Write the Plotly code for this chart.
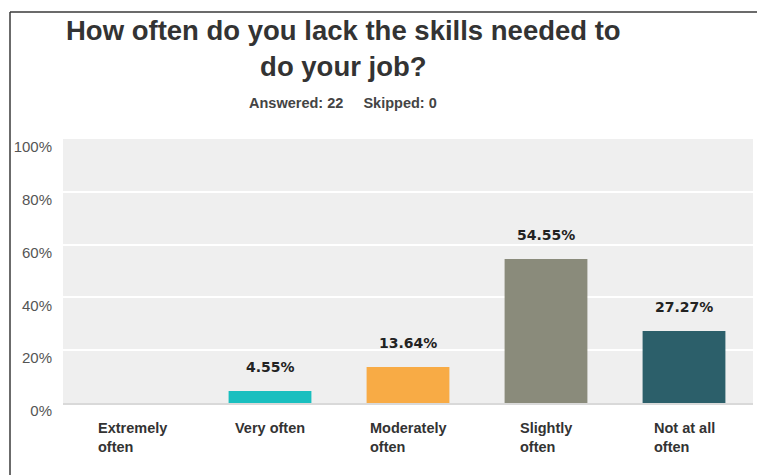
import plotly.graph_objects as go

categories = ["Extremely often", "Very often", "Moderately often", "Slightly often", "Not at all often"]
tick_labels = ["Extremely<br>often", "Very often", "Moderately<br>often", "Slightly<br>often", "Not at all<br>often"]
values = [0.0, 4.55, 13.64, 54.55, 27.27]
colors = ["#3a8fd6", "#19bfbf", "#f8ab45", "#8a8b7b", "#2c5f6a"]
y_ticks = [0, 20, 40, 60, 80, 100]
y_tick_text = ["0%", "20%", "40%", "60%", "80%", "100%"]

W, H = 757, 475
L, R, T, B = 63, 4, 139, 72
pw, ph = W - L - R, H - T - B

def px_x(px):
    return (px - L) / pw

def px_y(py):
    return (H - B - py) / ph

fig = go.Figure()
fig.add_trace(go.Bar(
    x=categories, y=values, marker=dict(color=colors, line=dict(width=0)),
    width=0.6, hoverinfo="skip",
))

annotations = []
for c, v in zip(categories, values):
    if v > 0:
        annotations.append(dict(
            x=c, y=v, xref="x", yref="y", text=f"{v:.2f}%", showarrow=False,
            yanchor="bottom", yshift=14,
            font=dict(family="DejaVu Sans", size=14, color="#222222", weight="bold"),
        ))
for c, t in zip(categories, tick_labels):
    annotations.append(dict(
        x=c, y=0, xref="x", yref="paper", text=t, showarrow=False,
        xanchor="center", yanchor="top", align="left", yshift=-15,
        font=dict(family="Liberation Sans, Arial", size=14.5, color="#333333", weight="bold"),
    ))

annotations.append(dict(
    x=px_x(343), y=px_y(33), xref="paper", yref="paper",
    text="How often do you lack the skills needed to<br>do your job?",
    showarrow=False, xanchor="center", yanchor="top", yshift=20,
    font=dict(family="Liberation Sans, Arial", size=27.5, color="#333333", weight="bold"),
))
annotations.append(dict(
    x=px_x(343), y=px_y(103), xref="paper", yref="paper",
    text="Answered: 22&nbsp;&nbsp;&nbsp;&nbsp;&nbsp;Skipped: 0",
    showarrow=False, xanchor="center", yanchor="middle",
    font=dict(family="Liberation Sans, Arial", size=14.5, color="#444444", weight="bold"),
))

shapes = [
    dict(type="line", xref="paper", yref="paper", x0=px_x(10), x1=px_x(760), y0=px_y(12), y1=px_y(12),
         line=dict(color="#3a3a3a", width=1.5)),
    dict(type="line", xref="paper", yref="paper", x0=px_x(10), x1=px_x(10), y0=px_y(12), y1=px_y(480),
         line=dict(color="#3a3a3a", width=1.5)),
]

fig.update_layout(
    width=W, height=H,
    margin=dict(l=L, r=R, t=T, b=B),
    paper_bgcolor="white", plot_bgcolor="#efefef",
    showlegend=False,
    annotations=annotations,
    shapes=shapes,
    xaxis=dict(showticklabels=False, showgrid=False, zeroline=False, range=[-0.5, 4.5],
               showline=True, linecolor="#d9d9d9", linewidth=1.5, mirror=False),
    yaxis=dict(range=[0, 100], tickvals=y_ticks, ticktext=y_tick_text,
               showgrid=True, gridcolor="white", gridwidth=1.5, zeroline=False,
               ticklabelshift=8, ticklabelstandoff=10,
               tickfont=dict(family="Liberation Sans, Arial", size=15, color="#555555"),
               showline=False, ticks=""),
)

fig.write_html("out.html")
